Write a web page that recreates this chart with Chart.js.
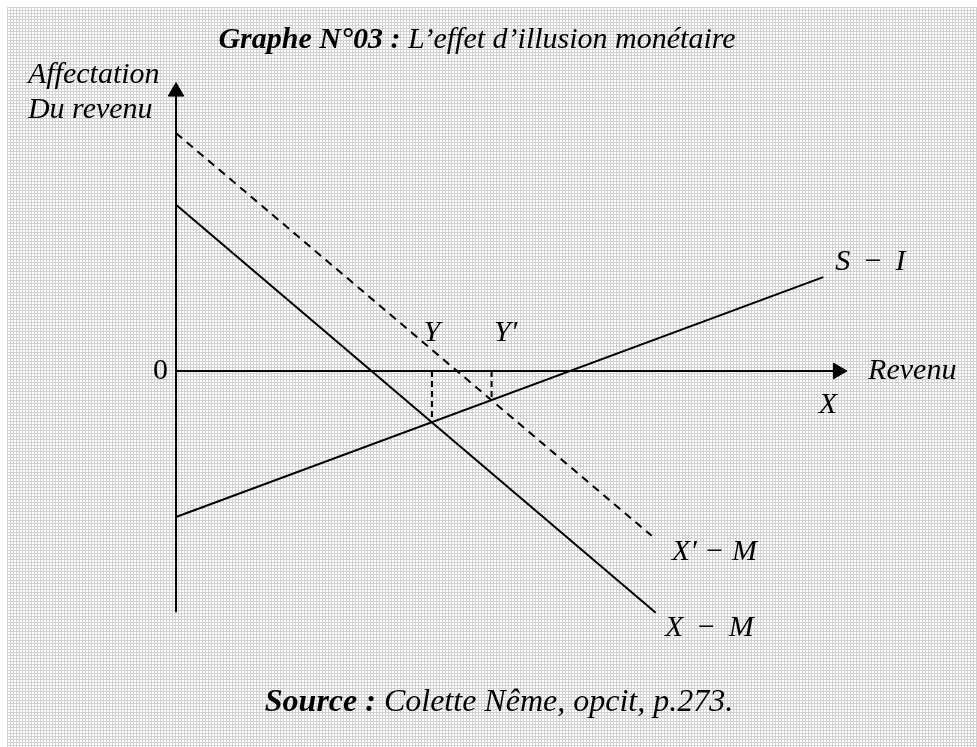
<!DOCTYPE html>
<html>
<head>
<meta charset="utf-8">
<script src="https://cdn.jsdelivr.net/npm/chart.js@4.4.1/dist/chart.umd.min.js"></script>
<style>
    html, body { margin: 0; padding: 0; background: #fff; }
    #wrap {
        position: relative;
        width: 977px;
        height: 747px;
        background-color: #fff;
        background-image:
            linear-gradient(90deg, #d2d2d2 1px, transparent 1px),
            linear-gradient(#d2d2d2 1px, transparent 1px);
        background-size: 3px 3px, 3px 3px;
        background-position: 7px 7px, 7px 7px;
    }
    #wrap::before {
        content: '';
        position: absolute;
        left: 0; top: 0; width: 977px; height: 7px; background: #fff;
    }
    #wrap::after {
        content: '';
        position: absolute;
        left: 0; top: 0; width: 7px; height: 747px; background: #fff;
    }
    canvas { position: relative; z-index: 1; }
</style>
</head>
<body>
<div id="wrap"><canvas id="graph" width="977" height="747"></canvas></div>
<script>
// curves (units: revenue on x, allocation on y, origin at 0)
const xPrimeMinusM = [{ x: 0, y: 3.55 }, { x: 7.10, y: -2.46 }];
const xMinusM = [{ x: 0, y: 2.48 }, { x: 7.16, y: -3.61 }];
const sMinusI = [{ x: 0, y: -2.18 }, { x: 9.66, y: 1.40 }];
const eqY = [{ x: 3.82, y: 0 }, { x: 3.82, y: -0.73 }];
const eqYPrime = [{ x: 4.71, y: 0 }, { x: 4.71, y: -0.44 }];

// axes
const yAxisLine = [{ x: 0, y: -3.60 }, { x: 0, y: 4.17 }];
const xAxisLine = [{ x: 0, y: 0 }, { x: 9.88, y: 0 }];
const arrowHeads = [{ x: 0, y: 4.17 }, { x: 9.88, y: 0 }];
const arrowRotation = [0, 90];

// annotations
const labelTexts = ['0', 'Y', 'Y\u2032', 'Revenu', 'X', 'S \u2006\u2212 \u2006I', 'X\u2032 \u2212 M', 'X \u2006\u2212 \u2006M', 'Affectation', 'Du revenu'];
const labelX = [-0.12, 3.82, 4.92, 10.33, 9.73, 9.84, 7.40, 7.30, -2.21, -2.21];
const labelY = [0, 0.57, 0.57, 0, -0.51, 1.63, -2.70, -3.84, 4.42, 3.90];
const labelAlign = ['right', 'center', 'center', 'left', 'center', 'left', 'left', 'left', 'left', 'left'];

const titleParts = ['Graphe N°03 :', ' L\u2019effet d\u2019illusion monétaire'];
const sourceParts = ['Source :', ' Colette Nême, opcit, p.273.'];

const serif = "'Liberation Serif', 'Times New Roman', serif";

function line(data, dash) {
    return {
        data: data,
        showLine: true,
        borderColor: '#000',
        borderWidth: 2,
        borderDash: dash || [],
        pointRadius: 0,
        fill: false
    };
}

function drawMixed(ctx, parts, cx, cy, size) {
    ctx.font = 'italic bold ' + size + 'px ' + serif;
    const w1 = ctx.measureText(parts[0]).width;
    ctx.font = 'italic ' + size + 'px ' + serif;
    const w2 = ctx.measureText(parts[1]).width;
    let x = cx - (w1 + w2) / 2;
    ctx.textAlign = 'left';
    ctx.textBaseline = 'middle';
    ctx.font = 'italic bold ' + size + 'px ' + serif;
    ctx.fillText(parts[0], x, cy);
    ctx.font = 'italic ' + size + 'px ' + serif;
    ctx.fillText(parts[1], x + w1, cy);
}

const textPlugin = {
    id: 'texts',
    afterDatasetsDraw(chart) {
        const ctx = chart.ctx;
        const xs = chart.scales.x;
        const ys = chart.scales.y;
        ctx.save();
        ctx.fillStyle = '#000';
        ctx.textBaseline = 'middle';
        for (let i = 0; i < labelTexts.length; i++) {
            ctx.font = (labelTexts[i] === '0' ? '' : 'italic ') + '30px ' + serif;
            ctx.textAlign = labelAlign[i];
            ctx.fillText(labelTexts[i], xs.getPixelForValue(labelX[i]), ys.getPixelForValue(labelY[i]));
        }
        drawMixed(ctx, titleParts, 477, 40, 30);
        drawMixed(ctx, sourceParts, 499, 703, 32);
        ctx.restore();
    }
};

new Chart(document.getElementById('graph'), {
    type: 'scatter',
    data: {
        datasets: [
            line(xPrimeMinusM, [8, 6]),
            line(xMinusM),
            line(sMinusI),
            line(eqY, [6, 4]),
            line(eqYPrime, [6, 4]),
            line(yAxisLine),
            line(xAxisLine),
            {
                data: arrowHeads,
                showLine: false,
                pointStyle: 'triangle',
                pointRadius: 9,
                rotation: arrowRotation,
                backgroundColor: '#000',
                borderColor: '#000',
                borderWidth: 1
            }
        ]
    },
    options: {
        responsive: false,
        animation: false,
        layout: { padding: 0, autoPadding: false },
        plugins: {
            legend: { display: false },
            tooltip: { enabled: false }
        },
        scales: {
            x: { type: 'linear', display: false, min: -2.627, max: 11.955 },
            y: { type: 'linear', display: false, min: -5.612, max: 5.537 }
        }
    },
    plugins: [textPlugin]
});
</script>
</body>
</html>
